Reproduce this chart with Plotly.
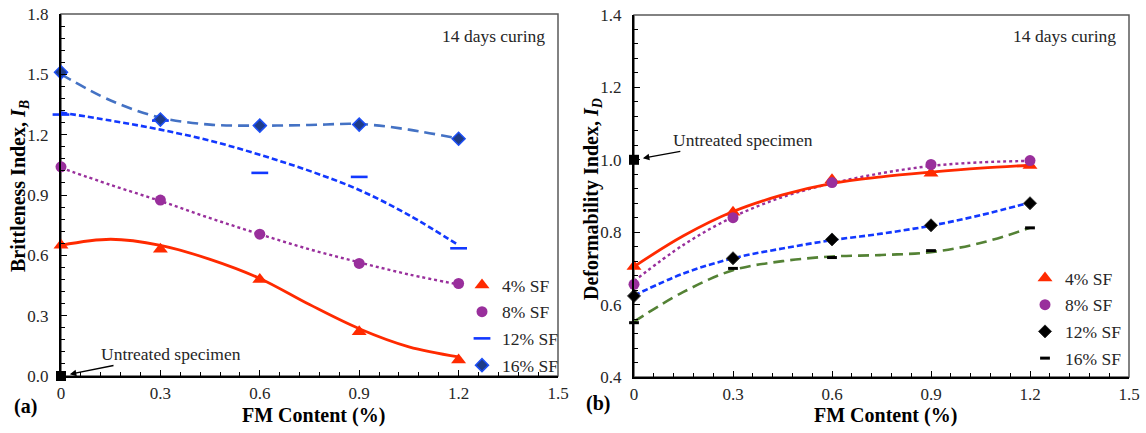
import plotly.graph_objects as go

# ---------------- data ----------------
fm = [0, 0.3, 0.6, 0.9, 1.2]
trend_x = [0, 0.15, 0.3, 0.45, 0.6, 0.75, 0.9, 1.05, 1.2]
series_names = ["4% SF", "8% SF", "12% SF", "16% SF"]

# (a) Brittleness index
IB_4 = [0.65, 0.63, 0.48, 0.22, 0.08]
IB_8 = [1.04, 0.875, 0.705, 0.56, 0.46]
IB_12 = [1.30, 1.27, 1.01, 0.99, 0.635]
IB_16 = [1.51, 1.275, 1.245, 1.25, 1.18]
IB_4_trend = [0.65, 0.68, 0.65, 0.58, 0.485, 0.355, 0.235, 0.145, 0.095]
IB_8_trend = [1.035, 0.95, 0.87, 0.785, 0.705, 0.63, 0.565, 0.505, 0.455]
IB_12_trend = [1.31, 1.27, 1.225, 1.17, 1.10, 1.02, 0.925, 0.80, 0.65]
IB_16_trend = [1.50, 1.37, 1.285, 1.25, 1.245, 1.248, 1.253, 1.225, 1.18]
IB_untreated = [0.0]

# (b) Deformability index
ID_4 = [0.705, 0.855, 0.945, 0.963, 0.984]
ID_8 = [0.656, 0.84, 0.937, 0.987, 0.998]
ID_12 = [0.624, 0.728, 0.78, 0.819, 0.88]
ID_16 = [0.55, 0.70, 0.73, 0.749, 0.812]
ID_4_trend = [0.705, 0.79, 0.857, 0.903, 0.935, 0.953, 0.966, 0.977, 0.985]
ID_8_trend = [0.665, 0.765, 0.842, 0.897, 0.935, 0.963, 0.983, 0.993, 0.997]
ID_12_trend = [0.625, 0.686, 0.728, 0.755, 0.778, 0.796, 0.818, 0.847, 0.882]
ID_16_trend = [0.553, 0.635, 0.695, 0.72, 0.733, 0.737, 0.745, 0.77, 0.812]
ID_untreated = [1.0]
untreated_x = [0]

x_ticks = [0, 0.3, 0.6, 0.9, 1.2, 1.5]
x_ticktext = ["0", "0.3", "0.6", "0.9", "1.2", "1.5"]

# ---------------- styling ----------------
FONT = "Liberation Serif, Times New Roman, serif"
RED = "#FF2A00"
PURPLE = "#992F9C"
BLUE = "#1238FF"
LBLUE = "#4472C4"
GREEN = "#548235"
W, H = 1146, 433

fig = go.Figure()

def trend(x, y, color, dash, xa, ya, width=2.6):
    fig.add_trace(go.Scatter(x=x, y=y, mode="lines", xaxis=xa, yaxis=ya,
                             line=dict(color=color, width=width, dash=dash,
                                       shape="spline", smoothing=1),
                             showlegend=False, hoverinfo="skip"))

def pts(x, y, name, marker, xa, ya, legend, group):
    fig.add_trace(go.Scatter(x=x, y=y, mode="markers", name=name, xaxis=xa, yaxis=ya,
                             marker=marker, legend=legend, legendgroup=group,
                             cliponaxis=False))

# ---- panel (a) ----
trend(trend_x, IB_16_trend, LBLUE, "11px,6px", "x", "y")
trend(trend_x, IB_12_trend, BLUE, "6px,3px", "x", "y")
trend(trend_x, IB_8_trend, PURPLE, "dot", "x", "y", 2.4)
trend(trend_x, IB_4_trend, RED, "solid", "x", "y", 2.8)

pts(fm, IB_4, series_names[0], dict(symbol="triangle-up", size=13, color=RED), "x", "y", "legend", "a1")
pts(fm, IB_8, series_names[1], dict(symbol="circle", size=11, color=PURPLE), "x", "y", "legend", "a2")
pts(fm, IB_12, series_names[2], dict(symbol="line-ew", size=12, line=dict(color=BLUE, width=2.6)), "x", "y", "legend", "a3")
pts(fm, IB_16, series_names[3], dict(symbol="diamond", size=10, color="#1F3C88",
                                     line=dict(color="#1D4FF5", width=1.5)), "x", "y", "legend", "a4")
fig.add_trace(go.Scatter(x=untreated_x, y=IB_untreated, mode="markers", xaxis="x", yaxis="y",
                         marker=dict(symbol="square", size=10, color="black"),
                         showlegend=False, cliponaxis=False))

# ---- panel (b) ----
trend(trend_x, ID_16_trend, GREEN, "11px,6px", "x2", "y2")
trend(trend_x, ID_12_trend, BLUE, "6px,3px", "x2", "y2")
trend(trend_x, ID_8_trend, PURPLE, "dot", "x2", "y2", 2.4)
trend(trend_x, ID_4_trend, RED, "solid", "x2", "y2", 2.8)

pts(fm, ID_4, series_names[0], dict(symbol="triangle-up", size=13, color=RED), "x2", "y2", "legend2", "b1")
pts(fm, ID_8, series_names[1], dict(symbol="circle", size=11, color=PURPLE), "x2", "y2", "legend2", "b2")
pts(fm, ID_12, series_names[2], dict(symbol="diamond", size=10, color="black",
                                     line=dict(color="#333333", width=1)), "x2", "y2", "legend2", "b3")
pts(fm, ID_16, series_names[3], dict(symbol="line-ew", size=7, line=dict(color="black", width=3)), "x2", "y2", "legend2", "b4")
fig.add_trace(go.Scatter(x=untreated_x, y=ID_untreated, mode="markers", xaxis="x2", yaxis="y2",
                         marker=dict(symbol="square", size=10, color="black"),
                         showlegend=False, cliponaxis=False))

# ---------------- axes ----------------
tickfont = dict(family=FONT, size=17, color="#262626")

def xax(domain, anchor):
    return dict(domain=domain, anchor=anchor, range=[0, 1.5], tickvals=x_ticks, ticktext=x_ticktext,
                ticks="inside", ticklen=6, tickwidth=1.2, tickcolor="black", ticklabelstandoff=1,
                minor=dict(ticks="inside", dtick=0.06, ticklen=4, tickwidth=1.2, tickcolor="black"),
                showline=True, linecolor="black", linewidth=2, showgrid=False, zeroline=False,
                tickfont=tickfont, fixedrange=True, automargin=False)

def yax(domain, anchor, rng, dtick, mdtick):
    return dict(domain=domain, anchor=anchor, range=rng, dtick=dtick, tick0=rng[0], tickformat=".1f",
                ticks="inside", ticklen=6, tickwidth=1.2, tickcolor="black", ticklabelstandoff=7,
                minor=dict(ticks="inside", dtick=mdtick, ticklen=4, tickwidth=1.2, tickcolor="black"),
                showline=True, linecolor="black", linewidth=2, showgrid=False, zeroline=False,
                tickfont=tickfont, fixedrange=True, automargin=False)

xd1 = [61 / W, 558 / W]
xd2 = [634 / W, 1129 / W]
yd1 = [1 - 376 / H, 1 - 14 / H]
yd2 = [1 - 377 / H, 1 - 15 / H]

fig.update_layout(
    width=W, height=H, margin=dict(l=0, r=0, t=0, b=0, autoexpand=False),
    paper_bgcolor="white", plot_bgcolor="white",
    font=dict(family=FONT, size=17, color="#262626"),
    xaxis=xax(xd1, "y"), yaxis=yax(yd1, "x", [0, 1.8], 0.3, 0.06),
    xaxis2=xax(xd2, "y2"), yaxis2=yax(yd2, "x2", [0.4, 1.4], 0.2, 0.04),
    legend=dict(x=462 / W, y=1 - 267 / H, xanchor="left", yanchor="top",
                bgcolor="rgba(0,0,0,0)", font=dict(family=FONT, size=17.5, color="#262626"),
                tracegroupgap=1, itemsizing="trace"),
    legend2=dict(x=1025 / W, y=1 - 260 / H, xanchor="left", yanchor="top",
                 bgcolor="rgba(0,0,0,0)", font=dict(family=FONT, size=17.5, color="#262626"),
                 tracegroupgap=1, itemsizing="trace"),
    showlegend=True,
)

# plot frames
for xr, yr in [("x domain", "y domain"), ("x2 domain", "y2 domain")]:
    fig.add_shape(type="rect", xref=xr, yref=yr, x0=0, x1=1, y0=0, y1=1,
                  line=dict(color="#595959", width=1.5), layer="below")

# ---------------- text ----------------
def txt(x, y, text, size=17.5, bold=False, angle=0, xanchor="center"):
    fig.add_annotation(x=x / W, y=1 - y / H, xref="paper", yref="paper", text=text,
                       showarrow=False, textangle=angle, xanchor=xanchor, yanchor="middle",
                       font=dict(family=FONT, size=size, color="black" if bold else "#262626"))

txt(547, 36, "14 days curing", xanchor="right")
txt(1118, 36, "14 days curing", xanchor="right")
txt(25, 406, "<b>(a)</b>", size=20, bold=True)
txt(598, 403, "<b>(b)</b>", size=20, bold=True)
txt(313, 415, "<b>FM Content (%)</b>", size=20, bold=True)
txt(886, 415, "<b>FM Content (%)</b>", size=20, bold=True)
txt(20, 186, "<b>Brittleness Index, <i>I</i><sub><i>B</i></sub></b>", size=20, bold=True, angle=-90)
txt(592, 199, "<b>Deformability Index, <i>I</i><sub><i>D</i></sub></b>", size=20, bold=True, angle=-90)

for xa, ya, yv, ax, ay in [("x", "y", IB_untreated[0], 110, -22), ("x2", "y2", ID_untreated[0], 109, -20)]:
    fig.add_annotation(x=untreated_x[0], y=yv, xref=xa, yref=ya, text="Untreated specimen",
                       showarrow=True, ax=ax, ay=ay, arrowhead=2, arrowsize=1, arrowwidth=1.3,
                       arrowcolor="black", standoff=9,
                       font=dict(family=FONT, size=17.5, color="#262626"))

fig.write_html("out.html")
